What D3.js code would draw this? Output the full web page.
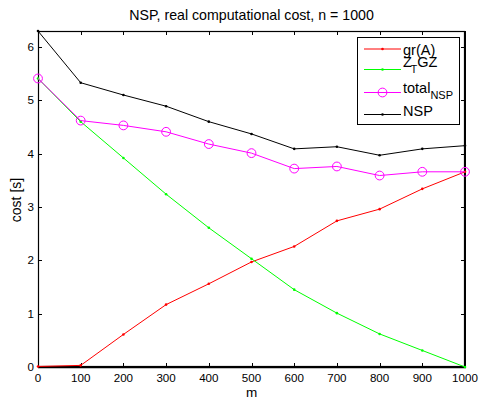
<!DOCTYPE html>
<html><head><meta charset="utf-8">
<script src="https://cdn.jsdelivr.net/npm/d3@7"></script>
<style>
body{margin:0;background:#fff;}
text{font-family:"Liberation Sans",Arial,Helvetica,sans-serif;fill:#000;}
</style></head>
<body><svg id="c" width="480" height="398"></svg>
<script>
const mValues = [0,100,200,300,400,500,600,700,800,900,1000];
const grA     = [0.01,0.03,0.61,1.17,1.56,1.97,2.26,2.74,2.96,3.34,3.66];
const ZTGZ    = [5.41,4.60,3.92,3.24,2.61,2.03,1.45,1.01,0.62,0.31,0.00];
const totalNSP= [5.41,4.62,4.53,4.41,4.18,4.01,3.72,3.76,3.59,3.66,3.66];
const NSP     = [6.30,5.33,5.10,4.89,4.60,4.37,4.09,4.13,3.97,4.09,4.15];
const xTicks = [0,100,200,300,400,500,600,700,800,900,1000];
const yTicks = [0,1,2,3,4,5,6];

const svg = d3.select("#c");
const L=38,R=465,T=31,B=367;
const x = d3.scaleLinear().domain([0,1000]).range([L,R]);
const y = d3.scaleLinear().domain([0,6.3]).range([B,T]);

// title
svg.append("text").attr("x",(L+R)/2).attr("y",20).attr("text-anchor","middle")
  .style("font-size","14.2px").text("NSP, real computational cost, n = 1000");

// axes
const ax = svg.append("g");
const tl = 4;
xTicks.forEach(t=>{
  const px = Math.round(x(t))+0.5;
  ax.append("line").attr("x1",px).attr("x2",px).attr("y1",B).attr("y2",B-tl).attr("stroke","#000");
  ax.append("line").attr("x1",px).attr("x2",px).attr("y1",T).attr("y2",T+tl).attr("stroke","#000");
  ax.append("text").attr("x",x(t)).attr("y",381.5).attr("text-anchor","middle")
    .style("font-size","11.6px").text(t);
});
yTicks.forEach(t=>{
  const py = Math.round(y(t))+0.5;
  ax.append("line").attr("x1",L).attr("x2",L+tl).attr("y1",py).attr("y2",py).attr("stroke","#000");
  ax.append("line").attr("x1",R).attr("x2",R-tl).attr("y1",py).attr("y2",py).attr("stroke","#000");
  ax.append("text").attr("x",34).attr("y",y(t)+4).attr("text-anchor","end")
    .style("font-size","11.6px").text(t);
});
ax.append("rect").attr("x",L+0.5).attr("y",T+0.5).attr("width",R-L-1).attr("height",B-T-1)
  .attr("fill","none").attr("stroke","#000").attr("stroke-width",1.2);
ax.append("line").attr("x1",R).attr("x2",R).attr("y1",T).attr("y2",B+1).attr("stroke","#000").attr("stroke-width",2);
ax.append("line").attr("x1",L).attr("x2",R+1).attr("y1",B+0.5).attr("y2",B+0.5).attr("stroke","#000").attr("stroke-width",1.6);

// series
const series = [
  {name:"gr", vals:grA, color:"#ff0000", marker:"dot"},
  {name:"z", vals:ZTGZ, color:"#00ff00", marker:"dot"},
  {name:"total", vals:totalNSP, color:"#ff00ff", marker:"circle"},
  {name:"nsp", vals:NSP, color:"#000000", marker:"dot"}
];
const g = svg.append("g");
const line = d3.line().x((d,i)=>x(mValues[i])).y(d=>y(d));
series.forEach(s=>{
  g.append("path").attr("d",line(s.vals)).attr("fill","none")
    .attr("stroke",s.color).attr("stroke-width",1);
  s.vals.forEach((v,i)=>{
    if(s.marker==="dot"){
      g.append("circle").attr("cx",x(mValues[i])).attr("cy",y(v)).attr("r",1.3).attr("fill",s.color);
    } else {
      g.append("circle").attr("cx",x(mValues[i])).attr("cy",y(v)).attr("r",4.4)
        .attr("fill","none").attr("stroke",s.color).attr("stroke-width",1);
    }
  });
});

// axis labels
svg.append("text").attr("x",(L+R)/2).attr("y",396.5).attr("text-anchor","middle")
  .style("font-size","13.5px").text("m");
svg.append("text").attr("transform","translate(21,200) rotate(-90)").attr("text-anchor","middle")
  .style("font-size","14px").text("cost [s]");

// legend
const lg = svg.append("g");
lg.append("rect").attr("x",357.5).attr("y",37.5).attr("width",102).attr("height",87)
  .attr("fill","#fff").attr("stroke","#000").attr("stroke-width",1);
const rows = [49,69.5,92.5,114.5];
series.forEach((s,i)=>{
  const yy = rows[i];
  lg.append("line").attr("x1",364).attr("x2",401).attr("y1",yy).attr("y2",yy)
    .attr("stroke",s.color).attr("stroke-width",1);
  if(s.marker==="dot") lg.append("circle").attr("cx",382.5).attr("cy",yy).attr("r",1.3).attr("fill",s.color);
  else lg.append("circle").attr("cx",382.5).attr("cy",yy).attr("r",4.4).attr("fill","none").attr("stroke",s.color);
});
lg.append("text").attr("x",403).attr("y",55).style("font-size","14.5px").text("gr(A)");
const zt = lg.append("text").attr("x",403).attr("y",67).style("font-size","14.5px");
zt.append("tspan").text("Z");
zt.append("tspan").attr("dy",6).attr("dx",-1).style("font-size","10.5px").text("T");
zt.append("tspan").attr("dy",-6).text("GZ");
const tt = lg.append("text").attr("x",403).attr("y",93).style("font-size","14.5px");
tt.append("tspan").text("total");
tt.append("tspan").attr("dy",6).style("font-size","11px").text("NSP");
lg.append("text").attr("x",403).attr("y",116).style("font-size","14.5px").text("NSP");
</script></body></html>
